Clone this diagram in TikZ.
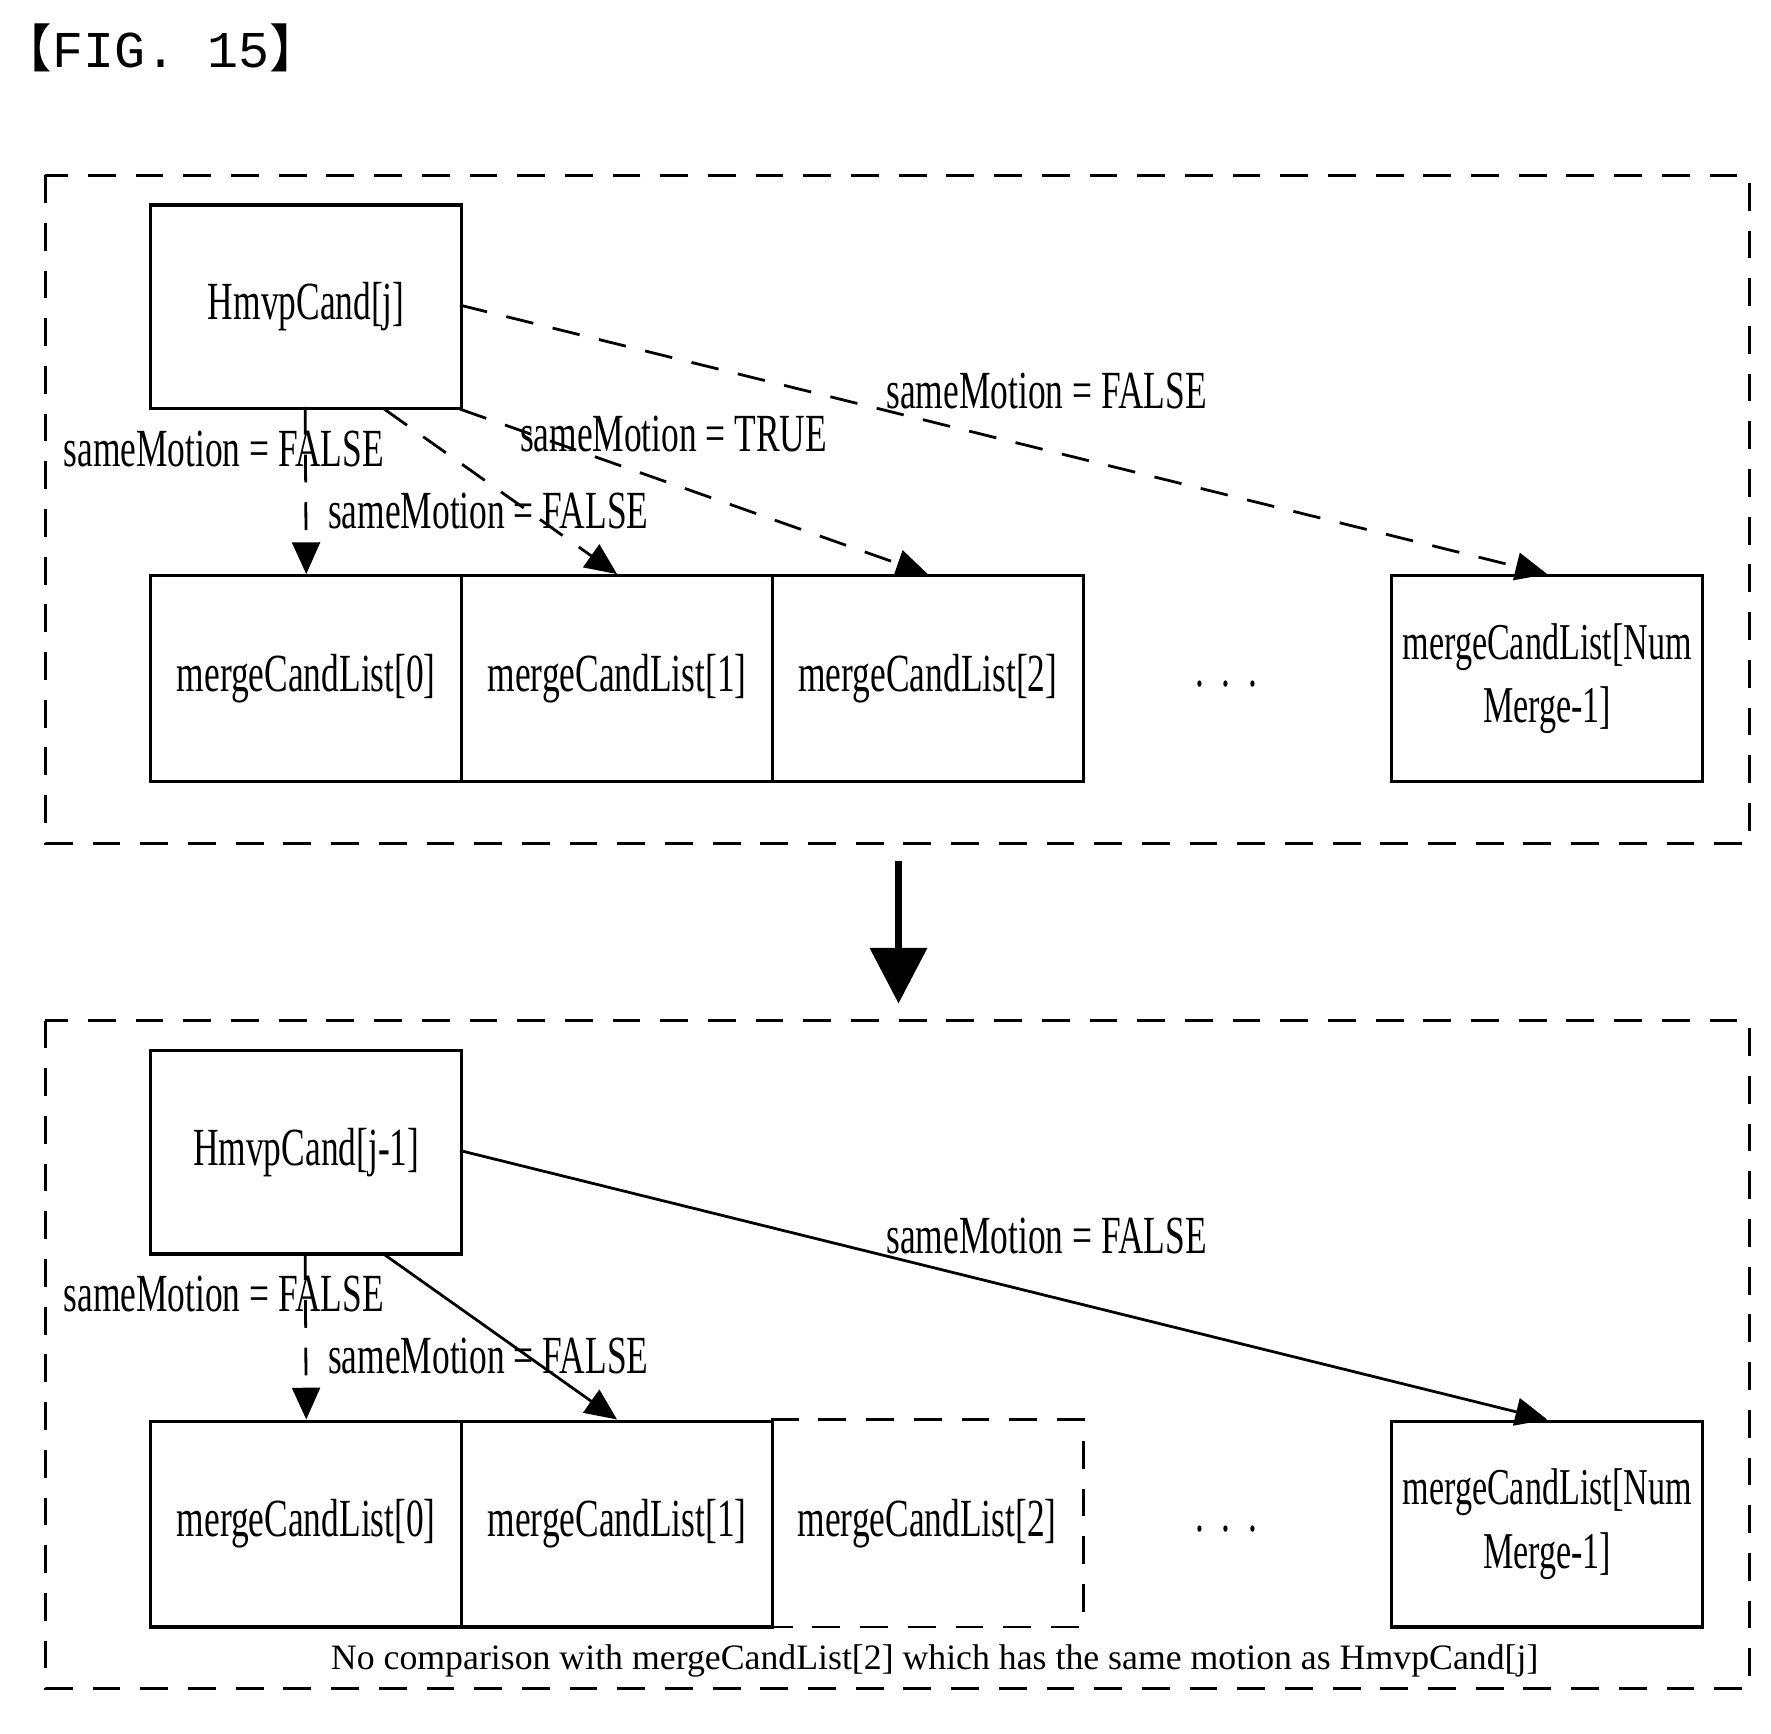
\documentclass[tikz,border=0pt]{standalone}
\usepackage{fontspec}
\setmainfont{Liberation Serif}
\setmonofont{Liberation Mono}
\newfontfamily\cond[FakeStretch=0.66]{Liberation Serif}
\newfontfamily\cjk{Noto Sans CJK SC}
\usetikzlibrary{arrows.meta}
\begin{document}
\begin{tikzpicture}[x={(0.01cm,0)},y={(0,-0.01cm)},
 box/.style={draw,line width=0.8pt,inner sep=0pt},
 lab/.style={font=\cond\fontsize{13.5}{16.5}\selectfont,inner sep=1pt},
 dsh/.style={dashed,dash pattern=on 7pt off 5pt,line width=0.7pt},
 arr/.style={-{Triangle[length=8pt,width=7pt]},line width=0.7pt}]
\useasboundingbox (0,0) rectangle (1567,1534);
\node[anchor=north west,font=\ttfamily\fontsize{13}{15}\selectfont,inner sep=0pt] (fig) at (0,20) {{\cjk 【}FIG. 15{\cjk 】}};
\foreach \p/\o in {a/0,b/748}{
 \begin{scope}[yshift={-\o*0.01cm}]
 \draw[dsh] (40,155) rectangle (1548,746);
 \node[box,minimum width=2.75cm,minimum height=1.8cm,anchor=north west,lab] (h\p) at (132,180) {};
 \node[box,minimum width=2.75cm,minimum height=1.82cm,anchor=north west,lab] (m0\p) at (132,508) {mergeCandList[0]};
 \node[box,minimum width=2.75cm,minimum height=1.82cm,anchor=north west,lab] (m1\p) at (407,508) {mergeCandList[1]};
 \node[box,minimum width=2.75cm,minimum height=1.82cm,anchor=north west,lab,align=center,font=\cond\fontsize{13}{16}\selectfont] (mn\p) at (1230,508) {mergeCandList[Num\\Merge-1]};
 \node[lab] (dots\p) at (1085,605) {.\,\,.\,\,.};
 \node[lab] (l1\p) at (198,397) {sameMotion = FALSE};
 \node[lab] (l2\p) at (432,452) {sameMotion = FALSE};
 \node[lab] (l4\p) at (926,346) {sameMotion = FALSE};
 \coordinate (c1\p) at (270,360);
 \coordinate (c2\p) at (340,362);
 \coordinate (c3\p) at (407,362);
 \coordinate (c4\p) at (407,270);
 \end{scope}}
\node[lab] at (ha) {HmvpCand[j]};
\node[lab] at (hb) {HmvpCand[j-1]};
\node[box,minimum width=2.75cm,minimum height=1.82cm,anchor=north west,lab] (m2a) at (682,508) {mergeCandList[2]};
\node[minimum width=2.75cm,minimum height=1.82cm,anchor=north west,lab,inner sep=0pt] (m2b) at (682,1256) {mergeCandList[2]};
\draw[dsh] (m2b.north west) -- (m2b.north east) -- (m2b.south east) -- (m2b.south west);
\node[lab] (l3a) at (596,384) {sameMotion = TRUE};
\draw[arr,dsh] (c1a) -- (m0a.north);
\draw[arr,dsh] (c2a) -- (m1a.north);
\draw[arr,dsh] (c3a) -- (m2a.north);
\draw[arr,dsh] (c4a) -- (mna.north);
\draw[arr,dsh] (c1b) -- (m0b.north);
\draw[arr] (c2b) -- (m1b.north);
\draw[arr] (c4b) -- (mnb.north);
\coordinate (s) at (795,762);
\coordinate (t) at (795,888);
\draw[-{Triangle[length=14pt,width=14pt]},line width=2pt] (s) -- (t);
\node[font=\fontsize{9}{11}\selectfont] (cap) at (827,1470) {No comparison with mergeCandList[2] which has the same motion as HmvpCand[j]};
\end{tikzpicture}
\end{document}
